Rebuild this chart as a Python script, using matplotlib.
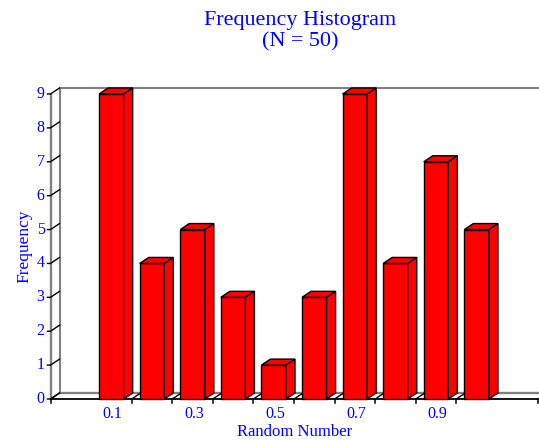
import matplotlib
matplotlib.use("Agg")
import matplotlib.pyplot as plt
from matplotlib.patches import Polygon

# bin centres and counts
bins = [0.1, 0.2, 0.3, 0.4, 0.5, 0.6, 0.7, 0.8, 0.9, 1.0]
counts = [9, 4, 5, 3, 1, 3, 9, 4, 7, 5]
x_ticks = [0.1, 0.3, 0.5, 0.7, 0.9]
x_labels = ["0.1", "0.3", "0.5", "0.7", "0.9"]
y_ticks = [0, 1, 2, 3, 4, 5, 6, 7, 8, 9]
# bin edges that get a tick; the ones next to the first and last bar have none
tick_edges = [-0.05, 0.15, 0.25, 0.35, 0.45, 0.55, 0.65, 0.75, 0.85, 0.95, 1.15]

BLUE = "#0000ff"
GREY = "#808080"
W, H = 539, 441

plt.rcParams["font.family"] = ["Liberation Serif", "DejaVu Serif"]

fig = plt.figure(figsize=(W / 100, H / 100), dpi=100)
ax = fig.add_axes([50.5 / W, (H - 399) / H, 487 / W, 305 / H])
ax.set_xlim(-0.05, 1.15)
ax.set_ylim(0, 9)
ax.axis("off")

# 3d depth of the box, in data units
dx = 9 / 405.0
dy = 6 * 9 / 305.0
bar_w = 0.0605

# walls
ax.plot([-0.05, -0.05], [0, 9], color=GREY, lw=1.7, clip_on=False, zorder=1)
ax.plot([-0.05 + dx, -0.05 + dx], [dy, 9 + dy], color=GREY, lw=1.5, clip_on=False, zorder=1)
ax.plot([-0.05 + dx, 1.155], [9 + dy, 9 + dy], color=GREY, lw=1.5, clip_on=False, zorder=1)
ax.plot([-0.05 + dx, 1.155], [dy, dy], color=GREY, lw=1.7, clip_on=False, zorder=1)

# y ticks run up the side wall
for v in y_ticks:
    ax.plot([-0.0575, -0.05, -0.05 + dx], [v, v, v + dy], color="black", lw=1.0,
            clip_on=False, zorder=2, solid_joinstyle="miter")
    ax.text(-0.0645, v, str(v), color=BLUE, fontsize=11.5, ha="right", va="center", clip_on=False)

# floor lines and x ticks at the bin edges
for e in tick_edges:
    if e < 1.1:
        ax.plot([e, e + dx], [0, dy], color="black", lw=1.0, clip_on=False, zorder=2)
    ax.plot([e, e], [0, -0.13], color="black", lw=1.1, clip_on=False, zorder=2)
ax.plot([-0.05, 1.15], [0, 0], color="black", lw=1.3, clip_on=False, zorder=3)

# bars with top and side faces
for b, c in zip(bins, counts):
    x0 = b - bar_w / 2
    x1 = b + bar_w / 2
    ax.bar(b, c, width=bar_w, color="#ff0000", edgecolor="black", lw=1.0, zorder=5, clip_on=False)
    ax.add_patch(Polygon([(x0, c), (x1, c), (x1 + dx, c + dy), (x0 + dx, c + dy)], closed=True,
                         fc="#ff0000", ec="black", lw=1.0, zorder=5, clip_on=False))
    ax.add_patch(Polygon([(x1, 0), (x1 + dx, dy), (x1 + dx, c + dy), (x1, c)], closed=True,
                         fc="#ff0000", ec="black", lw=1.0, zorder=5, clip_on=False))

for t, lab in zip(x_ticks, x_labels):
    ax.text(t + 0.003, -0.45, lab, color=BLUE, fontsize=11.5, ha="center", va="center", clip_on=False)

fig.text(295 / W, 1 - 432 / H, "Random Number", color=BLUE, fontsize=12, ha="center", va="center")
fig.text(24 / W, 1 - 246 / H, "Frequency", color=BLUE, fontsize=12.5, rotation=90, ha="center", va="center")
fig.text(300.5 / W, 1 - 20.5 / H, "Frequency Histogram", color=BLUE, fontsize=15.9, ha="center", va="center")
fig.text(300.5 / W, 1 - 41.5 / H, "(N = 50)", color=BLUE, fontsize=15.9, ha="center", va="center")

fig.savefig("out.png", dpi=100)
